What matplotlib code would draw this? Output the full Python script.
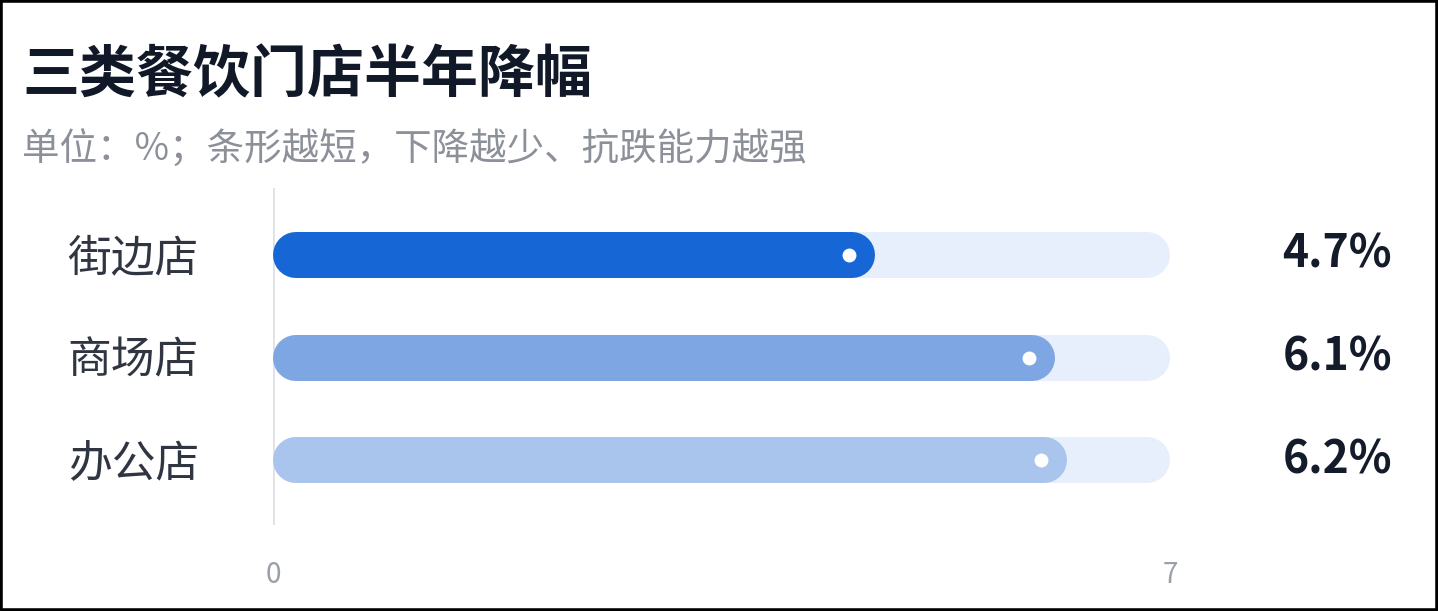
import matplotlib.pyplot as plt
from matplotlib.patches import Rectangle

plt.rcParams['font.family'] = ['Noto Sans CJK SC', 'DejaVu Sans']

# data
categories = ["街边店", "商场店", "办公店"]
values = [4.7, 6.1, 6.2]
value_labels = ["4.7%", "6.1%", "6.2%"]
bar_colors = ["#1766d6", "#7ea6e3", "#a9c4ed"]
x_max = 7
x_ticks = [0, 7]

title = "三类餐饮门店半年降幅"
subtitle = "单位：%；条形越短，下降越少、抗跌能力越强"

W, H = 1438, 611
fig = plt.figure(figsize=(W / 100, H / 100), dpi=100)
fig.patch.set_facecolor("white")

# axes placed so that 0 -> x=273px, 7 -> x=1170px
ax = fig.add_axes([273 / W, 1 - 525 / H, (1170 - 273) / W, (525 - 188) / H])
ax.set_xlim(0, x_max)
ax.set_ylim(2.634, -0.654)
ax.set_facecolor("none")

px_per_unit = (1170 - 273) / x_max
bar_px = 46
r = (bar_px / 2) / px_per_unit  # cap radius in data units
lw = bar_px * 72 / 100

for i, (v, c) in enumerate(zip(values, bar_colors)):
    # background track
    ax.plot([r, x_max - r], [i, i], color="#e8effc", lw=lw,
            solid_capstyle="round", zorder=1)
    ax.plot([r, v - r], [i, i], color=c, lw=lw,
            solid_capstyle="round", zorder=2)
    ax.plot(v - r - 3 / px_per_unit, i, "o", color="white", ms=10,
            mec="none", zorder=3)
    y_fig = 1 - (255 + i * 102.5) / H
    fig.text(1392 / W, y_fig, value_labels[i],
             ha="right", va="center", fontsize=32, fontweight="bold",
             color="#141b2b")
    fig.text(199 / W, y_fig - 3 / H, categories[i],
             ha="right", va="center", fontsize=31.5, color="#2f3642")

ax.axvline(0, color="#dfe1e5", lw=2, zorder=0)
for s in ax.spines.values():
    s.set_visible(False)
ax.set_yticks([])
ax.set_xticks(x_ticks)
ax.set_xticklabels([str(t) for t in x_ticks], fontsize=20, color="#9aa0a8")
ax.tick_params(axis="x", length=0, pad=25)

fig.text(22 / W, 1 - 75 / H, title, ha="left", va="center", fontsize=41,
         fontweight="heavy", color="#111827")
fig.text(22 / W, 1 - 150 / H, subtitle, ha="left", va="center", fontsize=27,
         color="#8b9099")

fig.patches.append(Rectangle((0, 0), 1, 1, transform=fig.transFigure,
                             fill=False, ec="black", lw=4, zorder=10))

fig.savefig("out.png", dpi=100)
